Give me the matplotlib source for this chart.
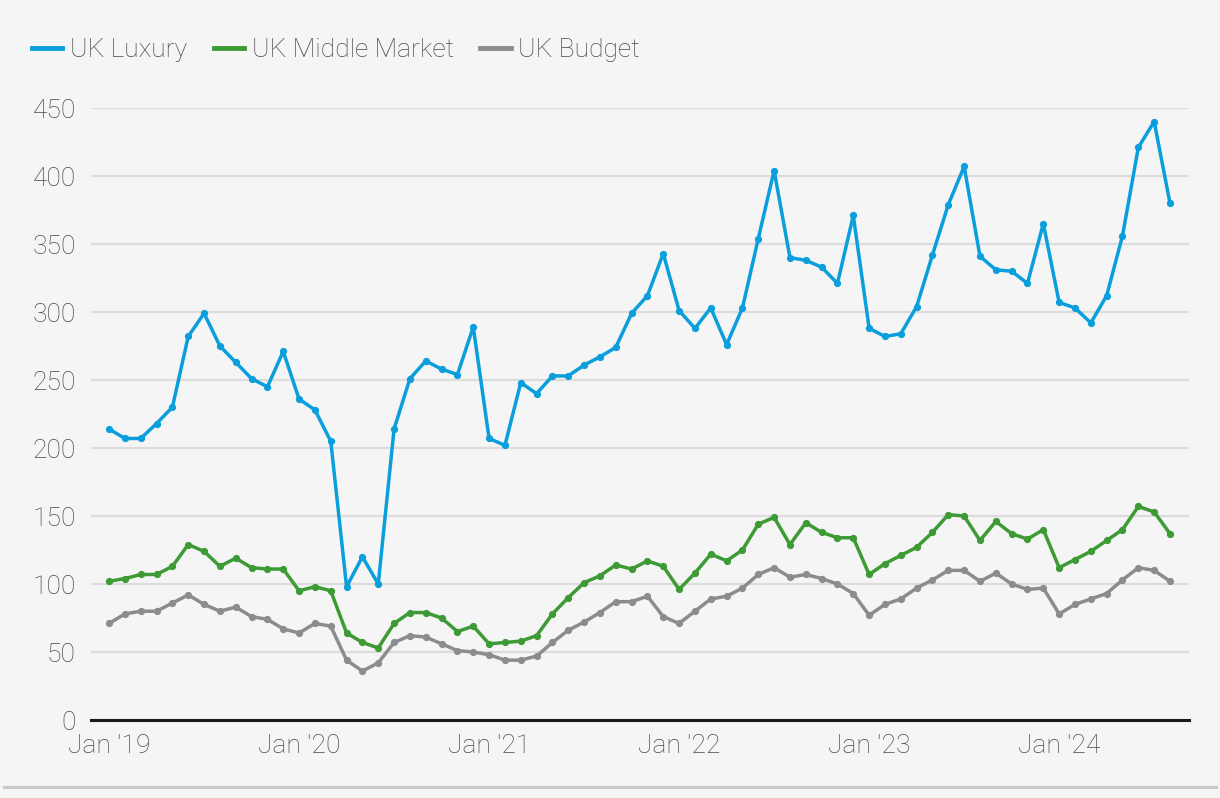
import numpy as np
import matplotlib
matplotlib.use("Agg")
import matplotlib.pyplot as plt
from matplotlib.lines import Line2D

plt.rcParams['font.family'] = ['Roboto', 'DejaVu Sans']
plt.rcParams['font.weight'] = 'light'

# datos mensuales Jan 2019 - Aug 2024
tick_labels = ["Jan '19", "Jan '20", "Jan '21", "Jan '22", "Jan '23", "Jan '24"]
series_names = ["UK Luxury", "UK Middle Market", "UK Budget"]

luxury = [214, 207, 207, 218, 230, 282, 299, 275, 263, 251, 245, 271,
          236, 228, 205, 98, 120, 100, 214, 251, 264, 258, 254, 289,
          207, 202, 248, 240, 253, 253, 261, 267, 274, 299, 312, 343,
          301, 288, 303, 276, 303, 354, 404, 340, 338, 333, 321, 371,
          288, 282, 284, 304, 342, 379, 407, 341, 331, 330, 321, 365,
          307, 303, 292, 312, 356, 421, 440, 380]
middle = [102, 104, 107, 107, 113, 129, 124, 113, 119, 112, 111, 111,
          95, 98, 95, 64, 57, 53, 71, 79, 79, 75, 65, 69,
          56, 57, 58, 62, 78, 90, 101, 106, 114, 111, 117, 113,
          96, 108, 122, 117, 125, 144, 149, 129, 145, 138, 134, 134,
          107, 115, 121, 127, 138, 151, 150, 132, 146, 137, 133, 140,
          112, 118, 124, 132, 140, 157, 153, 137]
budget = [71, 78, 80, 80, 86, 92, 85, 80, 83, 76, 74, 67,
          64, 71, 69, 44, 36, 42, 57, 62, 61, 56, 51, 50,
          48, 44, 44, 47, 57, 66, 72, 79, 87, 87, 91, 76,
          71, 80, 89, 91, 97, 107, 112, 105, 107, 104, 100, 93,
          77, 85, 89, 97, 103, 110, 110, 102, 108, 100, 96, 97,
          78, 85, 89, 93, 103, 112, 110, 102]

colores = ["#0a9fdc", "#3d9a35", "#8b8c8e"]
texto = "#4a4b50"
fondo = "#f5f5f5"

fig = plt.figure(figsize=(12.2, 7.98), dpi=100, facecolor=fondo)
ax = fig.add_axes([91/1220, 78/798, (1189-91)/1220, (720-108)/798])
ax.set_facecolor(fondo)

meses = np.arange(len(luxury))
for serie, nombre, c in zip([luxury, middle, budget], series_names, colores):
    ax.plot(meses, serie, color=c, lw=2.5, marker="o", ms=4.2,
            label=nombre, clip_on=False, zorder=3)

ax.set_xlim(-1.14, 68.2)
ax.set_ylim(0, 450)
ax.set_yticks(np.arange(0, 451, 50))
ax.set_xticks(np.arange(0, 61, 12))
ax.set_xticklabels(tick_labels)
ax.grid(axis="y", color="#dcdcdc", lw=1.6)
ax.set_axisbelow(True)
for s in ["top", "right", "left"]:
    ax.spines[s].set_visible(False)
ax.spines["bottom"].set_color("#1a1a1a")
ax.spines["bottom"].set_linewidth(2.2)
ax.spines["bottom"].set_zorder(4)
ax.tick_params(axis="both", length=0, labelsize=19, labelcolor=texto)
ax.tick_params(axis="y", pad=11)
ax.tick_params(axis="x", pad=10)

# leyenda arriba a la izquierda
handles = [Line2D([0], [0], color=c, lw=3.5) for c in colores]
fig.legend(handles, series_names, loc="center left", bbox_to_anchor=(8/1220, 1 - 50/798),
           ncol=3, frameon=False, fontsize=19, labelcolor=texto, handlelength=1.15,
           handletextpad=0.3, columnspacing=1.0)

# linea gris inferior
fig.add_artist(Line2D([4/1220, 1216/1220], [1 - 787/798, 1 - 787/798],
                      color="#c8c8c8", lw=2.2, transform=fig.transFigure))

fig.savefig("out.png", dpi=100, facecolor=fondo)
